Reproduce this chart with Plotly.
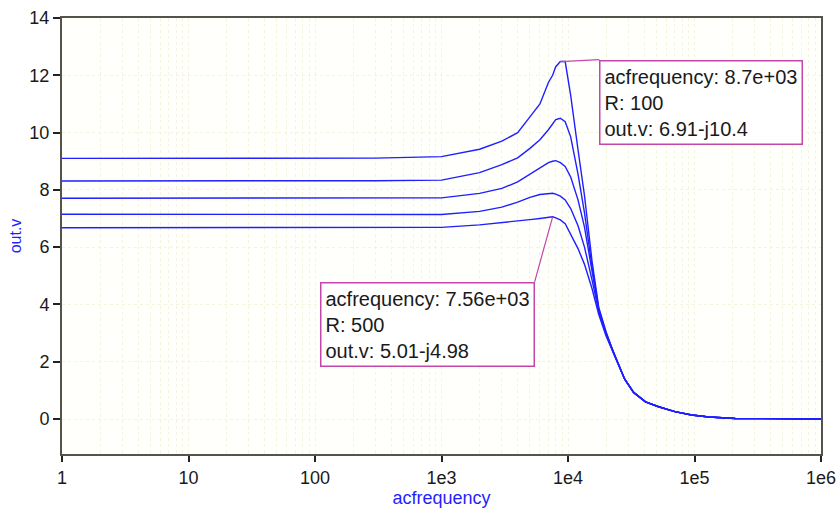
import math
import plotly.graph_objects as go

# ---- data ----
acfrequency = [1, 10, 100, 300, 1000, 2000, 3000, 4000, 5000, 6000, 7000, 7560, 8000,
               8700, 9500, 10500, 12000, 13500, 15500, 17500, 20000, 23000, 28000,
               33000, 41000, 52000, 70000, 95000, 130000, 210000, 1000000]

out_R100 = [9.10, 9.10, 9.10, 9.11, 9.16, 9.42, 9.70, 10.00, 10.55, 11.00, 11.75, 12.00, 12.30,
            12.48, 12.48, 11.30, 9.40, 7.80, 5.50, 3.90, 3.05, 2.30, 1.40,
            0.93, 0.60, 0.43, 0.26, 0.14, 0.07, 0.02, 0.00]
out_R200 = [8.31, 8.31, 8.31, 8.32, 8.34, 8.60, 8.88, 9.12, 9.45, 9.75, 10.10, 10.30, 10.45,
            10.50, 10.38, 9.85, 8.55, 7.20, 5.30, 3.85, 3.00, 2.30, 1.40,
            0.93, 0.60, 0.43, 0.26, 0.14, 0.07, 0.02, 0.00]
out_R300 = [7.71, 7.71, 7.71, 7.71, 7.72, 7.88, 8.05, 8.28, 8.55, 8.78, 8.95, 9.00, 9.02,
            8.95, 8.82, 8.45, 7.65, 6.70, 5.20, 3.80, 2.98, 2.30, 1.40,
            0.93, 0.60, 0.43, 0.26, 0.14, 0.07, 0.02, 0.00]
out_R400 = [7.15, 7.15, 7.15, 7.15, 7.14, 7.25, 7.40, 7.57, 7.74, 7.84, 7.88, 7.88, 7.85,
            7.78, 7.65, 7.35, 6.75, 6.00, 4.85, 3.75, 2.95, 2.28, 1.40,
            0.93, 0.60, 0.43, 0.26, 0.14, 0.07, 0.02, 0.00]
out_R500 = [6.68, 6.68, 6.68, 6.68, 6.69, 6.78, 6.85, 6.91, 6.96, 7.00, 7.04, 7.06, 7.02,
            6.95, 6.82, 6.45, 5.95, 5.40, 4.55, 3.65, 2.90, 2.27, 1.40,
            0.93, 0.60, 0.43, 0.26, 0.14, 0.07, 0.02, 0.00]

R_values = [100, 200, 300, 400, 500]
series = [out_R100, out_R200, out_R300, out_R400, out_R500]

x_tickvals = [1, 10, 100, 1000, 10000, 100000, 1000000]
x_ticktext = ["1", "10", "100", "1e3", "1e4", "1e5", "1e6"]
x_minor = [m * 10 ** d for d in range(6) for m in range(2, 10)]
y_tickvals = [0, 2, 4, 6, 8, 10, 12, 14]

# annotated points
note1 = dict(f=8700, v=12.48, text="acfrequency: 8.7e+03<br>R: 100<br>out.v: 6.91-j10.4")
note2 = dict(f=7560, v=7.06, text="acfrequency: 7.56e+03<br>R: 500<br>out.v: 5.01-j4.98")

LINE_BLUE = "#1f1fff"
MAGENTA = "#c545a8"
AXIS_COL = "#55524a"
GRID_COL = "#f4f3e2"
FONT = "Liberation Sans, Arial, sans-serif"

fig = go.Figure()
for r, vals in zip(R_values, series):
    fig.add_trace(go.Scatter(x=acfrequency, y=vals, mode="lines", name=f"R={r}",
                             line=dict(color=LINE_BLUE, width=1.4), showlegend=False))

for n, (ax, ay, xa, ya) in zip([note1, note2], [(39, -2, "left", "top"), (-18, 65, "right", "top")]):
    fig.add_annotation(x=math.log10(n["f"]), y=n["v"], xref="x", yref="y", text=n["text"],
                       showarrow=True, arrowhead=0, arrowwidth=1.2, arrowcolor=MAGENTA,
                       ax=ax, ay=ay, xanchor=xa, yanchor=ya, align="left",
                       bordercolor=MAGENTA, borderwidth=1.5, borderpad=4, bgcolor="white",
                       font=dict(family=FONT, size=20, color="#1a1a1a"))

fig.update_layout(
    width=840, height=508,
    margin=dict(l=62, r=19, t=18, b=54),
    paper_bgcolor="white", plot_bgcolor="#fffffc",
    font=dict(family=FONT, size=18, color="#1a1a1a"),
    xaxis=dict(type="log", range=[0, 6], tickvals=x_tickvals, ticktext=x_ticktext,
               automargin=False,
               showline=True, linecolor=AXIS_COL, linewidth=2, mirror=True,
               ticks="outside", ticklen=6, tickwidth=2, tickcolor="#222",
               showgrid=True, gridcolor=GRID_COL, griddash="dot", gridwidth=1,
               zeroline=False,
               minor=dict(tickvals=x_minor, showgrid=True, gridcolor=GRID_COL,
                          griddash="dot", gridwidth=1, ticks=""),
               title=dict(text="acfrequency", font=dict(color="#1f1fff", size=18), standoff=3),
               tickfont=dict(size=18)),
    yaxis=dict(range=[-1.22, 14], tickvals=y_tickvals, automargin=False,
               showline=True, linecolor=AXIS_COL, linewidth=2, mirror=True,
               ticks="outside", ticklen=7, tickwidth=2, tickcolor="#222",
               showgrid=True, gridcolor=GRID_COL, griddash="dot", gridwidth=1,
               zeroline=False,
               title=dict(text="out.v", font=dict(color="#1f1fff", size=16), standoff=4),
               tickfont=dict(size=18)),
)

# remove the default 8px page margin so the 840x508 figure fills the window exactly
fig.write_html("out.html", config={"displayModeBar": False},
               post_script="document.body.style.margin='0px';")
